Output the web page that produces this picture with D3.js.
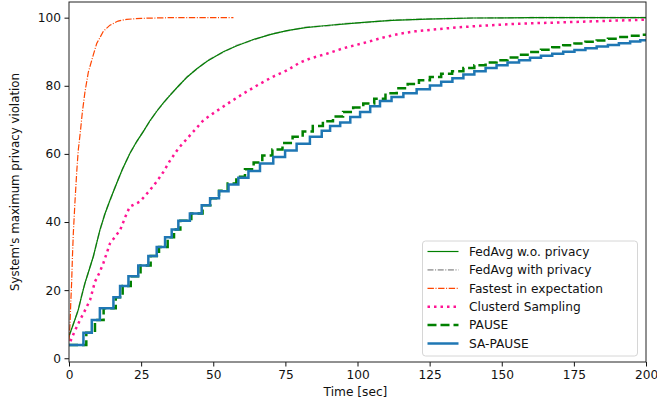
<!DOCTYPE html>
<html>
<head>
<meta charset="utf-8">
<script src="https://cdn.jsdelivr.net/npm/d3@7"></script>
<style>
  body { margin: 0; background: #fff; }
  svg { display: block; font-family: "DejaVu Sans", sans-serif; }
</style>
</head>
<body>
<div id="chart"></div>
<script>
// [time, value] pairs
const fedAvgNoPriv = [[0,6.5],[1.5,10],[3.2,14.2],[4.3,18],[5.5,22],[7,26],[8.4,29.8],[9.5,33.5],[10.7,37.6],[12.5,42.5],[14.2,46.4],[16.5,51.3],[18.5,55.5],[21.1,60.1],[23.5,63.7],[25.8,66.6],[28.1,69.8],[30.5,72.6],[32.7,75],[35,77.2],[38,80],[41,82.6],[44.3,85],[48,87.3],[53.5,90],[58,91.7],[63.9,93.6],[70,95.1],[75.5,96.2],[82,97.1],[89.3,97.7],[96,98.2],[103.2,98.7],[112,99.2],[124,99.6],[140,99.9],[160,100],[200,100]];
const fedAvgPriv = [[0,6.4],[1.5,10.1],[3.2,14.1],[4.3,18.1],[5.5,21.9],[7,26.1],[8.4,29.7],[9.5,33.6],[10.7,37.5],[12.5,42.6],[14.2,46.3],[16.5,51.4],[18.5,55.4],[21.1,60.2],[23.5,63.6],[25.8,66.7],[28.1,69.7],[30.5,72.7],[32.7,74.9],[35,77.3],[38,79.9],[41,82.7],[44.3,84.9],[48,87.4],[53.5,89.9],[58,91.8],[63.9,93.5],[70,95.2],[75.5,96.1],[82,97.2],[89.3,97.6],[96,98.3],[103.2,98.6],[112,99.3],[124,99.6],[140,99.9],[160,100],[200,100]];
const fastest = [[0,5],[0.35,10],[0.6,16],[0.9,22],[1.2,30],[1.5,36.7],[2.1,46.4],[2.7,55],[3.2,61],[4,67],[4.6,72],[5.5,78],[6.7,84],[8.4,89],[9.6,92.4],[11.9,96],[14.2,97.8],[17,99],[20,99.5],[25,99.8],[35,100],[57,100]];
const clustered = [[0.5,5],[2,8],[3.8,11.2],[5.5,14],[7.3,17.1],[9,22.5],[10.5,25],[11.9,27.9],[14.2,33.7],[15.8,35.5],[17.7,37.6],[20,42.5],[21.1,44.5],[24.6,46],[28.1,49.4],[30.5,52],[32.7,54.7],[35,58],[37.9,61.6],[42,65.5],[46.6,69.9],[51,72.5],[55.8,75.2],[61,78],[66.2,80.6],[71,82.8],[75.5,84.5],[80,86.8],[83.5,88],[89.3,89.4],[95,91],[103.2,92.8],[109,94.2],[114.7,95.3],[120,96],[126.3,96.5],[134,97.1],[142.5,97.6],[155,98.2],[173.6,98.7],[188,99.1],[200,99.4]];
const pause = [[0,3.9],[6,7.5],[9,11.2],[12,14.7],[16.2,17.9],[18.6,21.2],[21.4,24.1],[24.8,27.2],[28.3,30],[31.2,32.7],[34.2,35.5],[36.4,37.8],[38.6,40.4],[42.4,42.5],[46.3,44.9],[49,47],[52,49.2],[55,51.3],[58,53.3],[61,55.5],[64,57.5],[67,59.5],[70.5,61.3],[74,63.2],[77.5,65],[81,66.6],[84.5,68.2],[88,69.6],[91.5,71],[95,72.3],[98.5,73.6],[102,74.8],[105.8,76.2],[109.7,77.8],[113.6,79.3],[117.4,80.5],[121.3,81.6],[125.1,82.6],[129,83.5],[132.8,84.3],[136.7,85.2],[140.5,86],[144.4,86.8],[148.2,87.5],[152,88.3],[156,89.1],[159.8,89.9],[163.6,90.6],[167.5,91.3],[171.3,91.9],[175.2,92.4],[179,92.9],[182.9,93.3],[186.8,93.8],[190.6,94.3],[194.5,94.7],[198,95],[200,95.1]];
const saPause = [[0,3.9],[5,7.5],[7.9,11.2],[10.7,14.7],[15.4,17.9],[17.7,21.2],[20.6,24.1],[24,27.2],[27.5,30],[30.4,32.7],[33.3,35.5],[35.6,37.8],[37.9,40.4],[41.9,42.5],[46,44.9],[48.9,47],[52,49],[55.3,51],[58.7,53],[62.2,55],[66.2,57.2],[70.8,59.1],[74.9,61],[78.9,63],[83.5,65],[87.6,66.8],[90.5,68.2],[94,69.2],[97.5,70.8],[100.9,72.3],[104.4,74],[107.8,75.5],[111.8,76.7],[115.9,77.8],[120.5,79],[125.1,80.1],[129,81.2],[132.9,82.2],[136.7,83.3],[140.5,84.3],[144.4,85.2],[148.2,86],[152,86.8],[156,87.5],[159.8,88.2],[163.6,88.8],[167.5,89.4],[171.3,90],[175.2,90.5],[179,91],[182.9,91.5],[186.8,92],[190.6,92.5],[194.5,93],[198,93.4],[200,93.5]];

const xTicks = [0, 25, 50, 75, 100, 125, 150, 175, 200];
const yTicks = [0, 20, 40, 60, 80, 100];

// legend order; "z" gives drawing order (grey under green)
const series = [
  {name: "FedAvg w.o. privacy", data: fedAvgNoPriv, color: "#008000", width: 1.2, dash: null, curve: d3.curveLinear, z: 1},
  {name: "FedAvg with privacy", data: fedAvgPriv, color: "#a9a9a9", width: 1.6, dash: "6,1.6,1,1.6", curve: d3.curveLinear, z: 0},
  {name: "Fastest in expectation", data: fastest, color: "#ff4500", width: 1.2, dash: "6.4,1.6,1,1.6", curve: d3.curveLinear, z: 2},
  {name: "Clusterd Sampling", data: clustered, color: "#ff1493", width: 2.5, dash: "2.5,4", curve: d3.curveLinear, z: 3},
  {name: "PAUSE", data: pause, color: "#008000", width: 2.5, dash: "9,4", curve: d3.curveStepAfter, z: 4},
  {name: "SA-PAUSE", data: saPause, color: "#1f77b4", width: 2.5, dash: null, curve: d3.curveStepAfter, z: 5}
];

const W = 657, H = 404;
const margin = {left: 69, right: 11, top: 2, bottom: 42};

const svg = d3.select("#chart").append("svg").attr("width", W).attr("height", H);

const x = d3.scaleLinear().domain([0, 200]).range([margin.left, W - margin.right]);
const y = d3.scaleLinear().domain([-1.1, 104.6]).range([H - margin.bottom, margin.top]);

svg.append("clipPath").attr("id", "plotclip")
   .append("rect")
   .attr("x", margin.left).attr("y", margin.top)
   .attr("width", W - margin.left - margin.right)
   .attr("height", H - margin.top - margin.bottom);

const plot = svg.append("g").attr("clip-path", "url(#plotclip)");

series.slice().sort((a, b) => a.z - b.z).forEach(function(s) {
  let line = d3.line().x(d => x(d[0])).y(d => y(d[1])).curve(s.curve);
  plot.append("path")
      .attr("d", line(s.data))
      .attr("fill", "none")
      .attr("stroke", s.color)
      .attr("stroke-width", s.width)
      .attr("stroke-dasharray", s.dash)
      .attr("stroke-linejoin", "miter");
});

// axes
let xAxis = svg.append("g").attr("transform", "translate(0," + (H - margin.bottom) + ")")
   .call(d3.axisBottom(x).tickValues(xTicks).tickSize(4.5).tickPadding(3.5).tickFormat(d3.format("d")));
let yAxis = svg.append("g").attr("transform", "translate(" + margin.left + ",0)")
   .call(d3.axisLeft(y).tickValues(yTicks).tickSize(4.5).tickPadding(3.5).tickFormat(d3.format("d")));
[xAxis, yAxis].forEach(function(a) {
  a.select(".domain").remove();
  a.selectAll("text").attr("font-size", 12.2).attr("fill", "#111").attr("font-family", "DejaVu Sans, sans-serif");
  a.selectAll("line").attr("stroke", "#111").attr("stroke-width", 1);
});

// frame
svg.append("rect")
   .attr("x", margin.left).attr("y", margin.top)
   .attr("width", W - margin.left - margin.right)
   .attr("height", H - margin.top - margin.bottom)
   .attr("fill", "none").attr("stroke", "#222").attr("stroke-width", 1);

// axis labels
svg.append("text")
   .attr("x", (margin.left + W - margin.right) / 2 - 2).attr("y", 396)
   .attr("text-anchor", "middle").attr("font-size", 12.2).attr("fill", "#111")
   .text("Time [sec]");
svg.append("text")
   .attr("transform", "translate(19," + ((margin.top + H - margin.bottom) / 2) + ") rotate(-90)")
   .attr("text-anchor", "middle").attr("font-size", 11.8).attr("fill", "#111")
   .text("System's maximum privacy violation");

// legend
let legend = svg.append("g").attr("transform", "translate(422.5,241)");
legend.append("rect")
      .attr("width", 215).attr("height", 115)
      .attr("rx", 3).attr("fill", "#fff").attr("fill-opacity", 0.85)
      .attr("stroke", "#d6d6d6").attr("stroke-width", 1);
series.forEach(function(s, i) {
  let ly = 10.5 + i * 18.4;
  legend.append("line")
        .attr("x1", 5).attr("x2", 36).attr("y1", ly).attr("y2", ly)
        .attr("stroke", s.color).attr("stroke-width", s.width)
        .attr("stroke-dasharray", s.dash);
  legend.append("text")
        .attr("x", 46.5).attr("y", ly).attr("dy", "0.36em")
        .attr("font-size", 12.2).attr("fill", "#111")
        .text(s.name);
});
</script>
</body>
</html>
